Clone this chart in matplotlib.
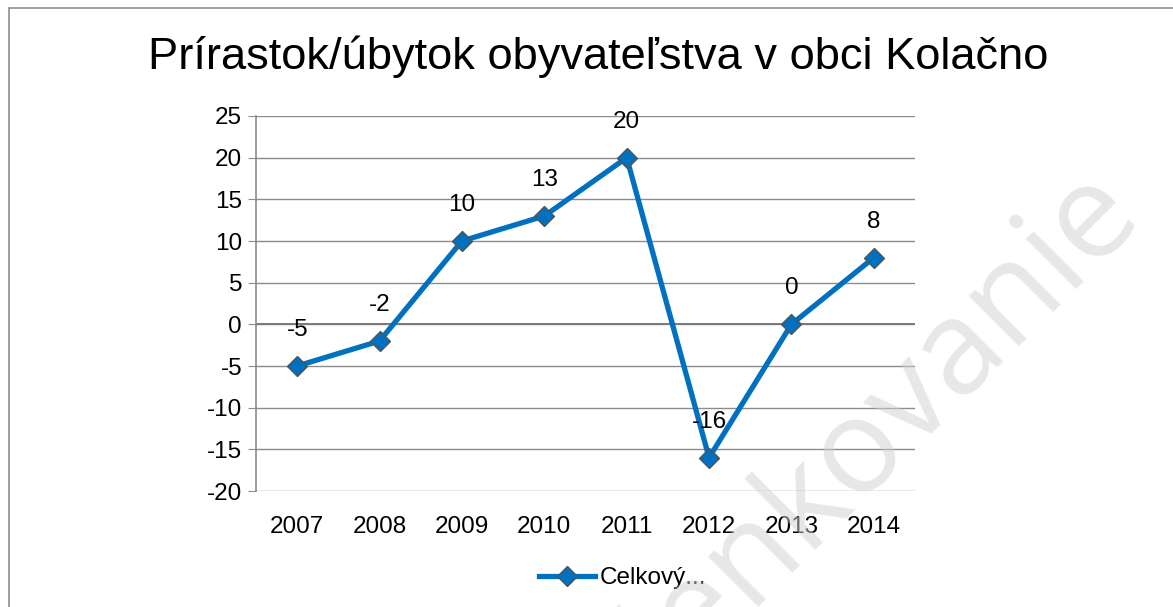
import matplotlib
matplotlib.use("Agg")
import matplotlib.pyplot as plt
from matplotlib.lines import Line2D

years = ["2007", "2008", "2009", "2010", "2011", "2012", "2013", "2014"]
values = [-5, -2, 10, 13, 20, -16, 0, 8]
yticks = [25, 20, 15, 10, 5, 0, -5, -10, -15, -20]
title = "Prírastok/úbytok obyvateľstva v obci Kolačno"
legend_label = "Celkový..."
watermark = "elenkovanie"

plt.rcParams["font.family"] = ["Liberation Sans", "DejaVu Sans"]

W, H = 1173, 607
fig = plt.figure(figsize=(W / 100, H / 100), dpi=100)
fig.patch.set_facecolor("white")

# outer chart border
fig.add_artist(plt.Rectangle((9 / W, -0.01), 1.2, (H - 8) / H + 0.01,
                             transform=fig.transFigure, fill=False,
                             edgecolor="#8c8c8c", linewidth=1.2))

ax = fig.add_axes([256 / W, 1 - 491 / H, (915 - 256) / W, (491 - 116) / H])
x = list(range(len(years)))
ax.set_xlim(-0.5, len(years) - 0.5)
ax.set_ylim(-20, 25)
ax.set_yticks(yticks)
ax.set_yticklabels([str(t) for t in yticks])
ax.set_xticks(x)
ax.set_xticklabels(years)
ax.grid(axis="y", color="#8c8c8c", linewidth=1.0)
ax.set_axisbelow(True)
for s in ["top", "right", "bottom"]:
    ax.spines[s].set_visible(False)
ax.spines["left"].set_color("#8c8c8c")
ax.spines["left"].set_linewidth(1.2)
ax.axhline(0, color="#7a7a7a", linewidth=1.4, zorder=1)
ax.tick_params(axis="y", length=6, color="#8c8c8c", labelsize=17.5, pad=4)
ax.tick_params(axis="x", length=0, labelsize=17.5, pad=18)

ax.plot(x, values, color="#0070C0", linewidth=3.8, marker="D", markersize=10.5,
        markerfacecolor="#0070C0", markeredgecolor="#555555",
        markeredgewidth=1.0, zorder=3, solid_joinstyle="miter")
for xi, v in zip(x, values):
    ax.annotate(str(v), (xi, v), xytext=(0, 26), textcoords="offset points",
                ha="center", va="center", fontsize=17.5, color="black", zorder=4)

fig.text(598 / W, 1 - 57 / H, title, ha="center", va="center", fontsize=32.6)

# legend
handle = Line2D([], [], color="#0070C0", linewidth=3.8, marker="D",
                markersize=10.5, markerfacecolor="#0070C0",
                markeredgecolor="#555555", markeredgewidth=1.0)
fig.legend([handle], [legend_label], loc="center", bbox_to_anchor=(623 / W, 1 - 578 / H),
           frameon=False, fontsize=17.5, handlelength=2.3, handletextpad=0.2)

fig.text(858 / W, 1 - 452 / H, watermark, ha="center", va="center",
         rotation=45, fontsize=95, color="#d0d0d0", alpha=0.5,
         family=["Open Sans", "DejaVu Sans"], zorder=10)

fig.savefig("out.png", dpi=100)
